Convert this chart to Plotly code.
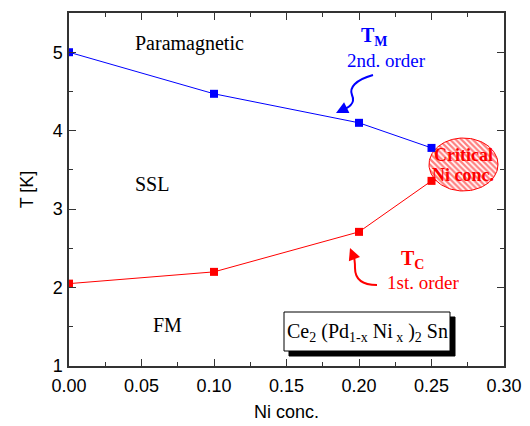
import numpy as np
import plotly.graph_objects as go

# ---- data ----
ni_conc = [0.00, 0.10, 0.20, 0.25]
t_m = [5.00, 4.47, 4.10, 3.78]
t_c = [2.05, 2.20, 2.71, 3.36]
x_ticks = [0.00, 0.05, 0.10, 0.15, 0.20, 0.25, 0.30]
y_ticks = [1, 2, 3, 4, 5]

# ---- layout geometry (pixels) ----
W, H = 530, 426
L, R, T, B = 69, 26, 13, 60
XR = (0.0, 0.30)
YR = (1.0, 5.5)
pw, ph = W - L - R, H - T - B


def X(px):
    return XR[0] + (px - L) / pw * (XR[1] - XR[0])


def Y(py):
    return YR[1] - (py - T) / ph * (YR[1] - YR[0])


SERIF = "Liberation Serif"
SANS = "Liberation Sans"
BLUE = "#0000ff"
RED = "#ff0000"

fig = go.Figure()

# critical concentration ellipse (hatched)
cx, cy, rx, ry = 463.5, 164.5, 34.5, 26.5
th = np.linspace(0, 2 * np.pi, 121)
fig.add_trace(go.Scatter(
    x=[X(cx + rx * np.cos(t)) for t in th],
    y=[Y(cy + ry * np.sin(t)) for t in th],
    mode="lines", fill="toself", fillcolor="white",
    fillpattern=dict(shape="\\", fgcolor=RED, bgcolor="white", size=4, solidity=0.55),
    line=dict(color=RED, width=1), hoverinfo="skip", showlegend=False,
))

fig.add_trace(go.Scatter(
    x=ni_conc, y=t_m, mode="lines+markers",
    line=dict(color=BLUE, width=1),
    marker=dict(symbol="square", size=8, color=BLUE),
    showlegend=False,
))
fig.add_trace(go.Scatter(
    x=ni_conc, y=t_c, mode="lines+markers",
    line=dict(color=RED, width=1),
    marker=dict(symbol="square", size=8, color=RED),
    showlegend=False,
))

shapes = []
# formula box with shadow
bx0, bx1, by0, by1 = 284, 450, 312, 351
sh = 5
shapes.append(dict(type="rect", xref="x", yref="y",
                   x0=X(bx0 + sh), x1=X(bx1 + sh), y0=Y(by0 + sh), y1=Y(by1 + sh),
                   fillcolor="black", line=dict(color="black", width=1)))
shapes.append(dict(type="rect", xref="x", yref="y",
                   x0=X(bx0), x1=X(bx1), y0=Y(by0), y1=Y(by1),
                   fillcolor="white", line=dict(color="black", width=1)))


def path(points):
    s = "M %f,%f" % (X(points[0][0]), Y(points[0][1]))
    rest = points[1:]
    for i in range(0, len(rest), 3):
        a, b, c = rest[i], rest[i + 1], rest[i + 2]
        s += " C %f,%f %f,%f %f,%f" % (X(a[0]), Y(a[1]), X(b[0]), Y(b[1]), X(c[0]), Y(c[1]))
    return s


# curly arrow to T_M
shapes.append(dict(type="path", xref="x", yref="y",
                   path=path([(373, 75), (355, 80), (349, 88), (352, 95),
                              (356, 104), (348, 108), (340, 111)]),
                   line=dict(color=BLUE, width=2)))
# curly arrow to T_C
shapes.append(dict(type="path", xref="x", yref="y",
                   path=path([(377, 285), (360, 285), (355, 278), (355, 268),
                              (355, 258), (354, 254), (351, 251)]),
                   line=dict(color=RED, width=2)))

annotations = []


def txt(px, py, text, size=20, color="black", family=SERIF, **kw):
    annotations.append(dict(x=X(px), y=Y(py), xref="x", yref="y", text=text,
                            showarrow=False, font=dict(family=family, size=size, color=color), **kw))


txt(189, 43, "Paramagnetic")
txt(152, 184, "SSL")
txt(167, 325, "FM")
txt(374, 36, "<b>T<sub>M</sub></b>", color=BLUE)
txt(386, 60, "2nd. order", size=19, color=BLUE)
txt(412, 259, "<b>T<sub>C</sub></b>", color=RED)
txt(423, 282, "1st. order", size=19, color=RED)
txt(463, 155, "<b>Critical</b>", size=18, color=RED)
txt(463, 175, "<b>Ni conc.</b>", size=18, color=RED)
txt(367, 332, "Ce<sub>2</sub> (Pd<sub>1-x</sub> Ni<sub> x</sub> )<sub>2</sub> Sn", size=20)

# arrowheads
annotations.append(dict(x=X(336), y=Y(113), xref="x", yref="y", text="", showarrow=True,
                        ax=X(342), ay=Y(110), axref="x", ayref="y",
                        arrowhead=2, arrowsize=1.2, arrowwidth=2, arrowcolor=BLUE))
annotations.append(dict(x=X(350), y=Y(248), xref="x", yref="y", text="", showarrow=True,
                        ax=X(352), ay=Y(253), axref="x", ayref="y",
                        arrowhead=2, arrowsize=1.2, arrowwidth=2, arrowcolor=RED))

axis_common = dict(
    showline=True, linecolor="#333333", linewidth=1.5, mirror="ticks",
    ticks="inside", ticklen=7, tickwidth=1.2, tickcolor="#333333",
    showgrid=False, zeroline=False, automargin=False,
    tickfont=dict(family=SANS, size=18, color="black"),
)

fig.update_layout(
    width=W, height=H,
    margin=dict(l=L, r=R, t=T, b=B),
    paper_bgcolor="white", plot_bgcolor="white",
    shapes=shapes, annotations=annotations,
    xaxis=dict(range=list(XR), tickvals=x_ticks, tickformat=".2f", ticklabelstandoff=3,
               minor=dict(ticks="inside", ticklen=4, dtick=0.025, tick0=0, tickcolor="#333333"),
               title=dict(text="Ni conc.", font=dict(family=SANS, size=18, color="black"), standoff=10),
               **axis_common),
    yaxis=dict(range=list(YR), tickvals=y_ticks, ticklabelstandoff=1,
               minor=dict(ticks="inside", ticklen=4, dtick=0.5, tick0=1, tickcolor="#333333"),
               title=dict(text="T [K]", font=dict(family=SANS, size=18, color="black"), standoff=14),
               **axis_common),
)

fig.write_html("out.html")
